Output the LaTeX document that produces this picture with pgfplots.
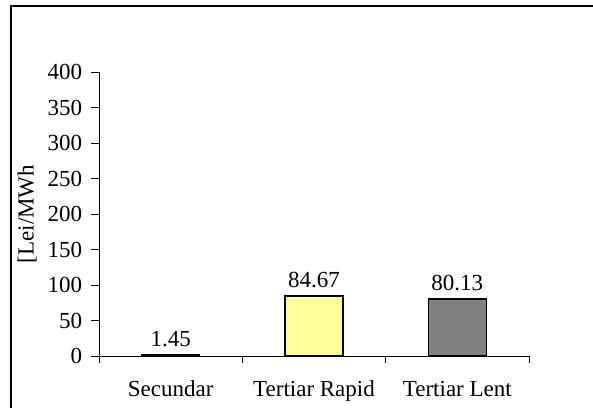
\documentclass[border=0pt]{standalone}
\usepackage{pgfplots}
\pgfplotsset{compat=1.18}
\usepackage{fontspec}
\setmainfont{Liberation Serif}
\definecolor{barY}{HTML}{FFFF99}
\definecolor{barG}{HTML}{808080}
\begin{document}
\fontsize{23}{27}\selectfont
\begin{tikzpicture}[x=1pt,y=1pt]
\useasboundingbox (0,0) rectangle (593,407);
\draw[line width=1.2pt] (11,-2) -- (11,401) -- (595,401);
\begin{axis}[
  at={(99pt,51pt)}, anchor=south west,
  scale only axis, width=430pt, height=284pt,
  axis lines=left, axis line style={-, line width=0.8pt},
  xmin=-0.5, xmax=2.5, ymin=0, ymax=400,
  ytick={0,50,...,400},
  xtick={0,1,2},
  xticklabels={Secundar,Tertiar Rapid,Tertiar Lent},
  major x tick style={draw=none},
  minor xtick={-0.5,0.5,1.5,2.5},
  minor tick length=7pt,
  major tick length=8pt,
  tick align=outside,
  tick style={line width=0.8pt, black},
  /pgf/number format/assume math mode=true,
  ticklabel style={font=\fontsize{23}{27}\selectfont},
  xticklabel style={yshift=-9pt},
  yticklabel style={xshift=-1pt},
  ylabel={[Lei/MWh},
  ylabel style={at={(axis description cs:-0.167,0.5)}, anchor=center, font=\fontsize{23}{27}\selectfont},
  ybar, bar width=58pt, bar shift=0pt,
  nodes near coords,
  nodes near coords style={font=\fontsize{23}{27}\selectfont, /pgf/number format/fixed, /pgf/number format/precision=2, /pgf/number format/fixed zerofill},
  clip=false,
]
\addplot[draw=black, line width=1.5pt, fill=black] coordinates {(0,1.45)};
\addplot[draw=black, line width=1.5pt, fill=barY] coordinates {(1,84.67)};
\addplot[draw=black, line width=1.5pt, fill=barG] coordinates {(2,80.13)};
\end{axis}
\end{tikzpicture}
\end{document}
